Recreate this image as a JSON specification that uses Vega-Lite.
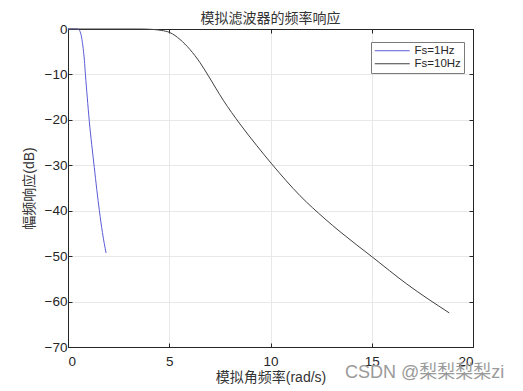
{
  "$schema": "https://vega.github.io/schema/vega-lite/v6.json",
  "width": 405,
  "height": 318,
  "autosize": {"type": "none"},
  "padding": {"left": 68, "top": 29, "right": 50, "bottom": 44},
  "background": "white",
  "title": {
    "text": "模拟滤波器的频率响应",
    "fontSize": 14,
    "font": "Liberation Sans, Noto Sans CJK SC",
    "fontWeight": "normal",
    "color": "#333333",
    "offset": -4,
    "anchor": "middle"
  },
  "config": {
    "view": {"stroke": "#262626", "strokeWidth": 1},
    "axis": {
      "domainColor": "#262626",
      "tickColor": "#262626",
      "tickSize": -4,
      "labelFont": "Liberation Sans",
      "labelFontSize": 13.5,
      "labelColor": "#262626",
      "titleFont": "Liberation Sans, Noto Sans CJK SC",
      "titleFontSize": 14,
      "titleFontWeight": "normal",
      "titleColor": "#333333",
      "gridColor": "#e8e8e8",
      "labelOverlap": false
    }
  },
  "resolve": {"axis": {"x": "independent", "y": "independent"}},
  "layer": [
    {
      "data": {
        "values": [
          {"x": 0, "y": 0, "s": "Fs=1Hz"},
          {"x": 0.4, "y": 0, "s": "Fs=1Hz"},
          {"x": 0.52, "y": -0.1, "s": "Fs=1Hz"},
          {"x": 0.6, "y": -0.6, "s": "Fs=1Hz"},
          {"x": 0.69, "y": -2.3, "s": "Fs=1Hz"},
          {"x": 0.75, "y": -4.3, "s": "Fs=1Hz"},
          {"x": 0.81, "y": -6.9, "s": "Fs=1Hz"},
          {"x": 0.86, "y": -10, "s": "Fs=1Hz"},
          {"x": 0.95, "y": -15, "s": "Fs=1Hz"},
          {"x": 1.05, "y": -20.2, "s": "Fs=1Hz"},
          {"x": 1.17, "y": -25.4, "s": "Fs=1Hz"},
          {"x": 1.3, "y": -30.5, "s": "Fs=1Hz"},
          {"x": 1.42, "y": -35.3, "s": "Fs=1Hz"},
          {"x": 1.55, "y": -40, "s": "Fs=1Hz"},
          {"x": 1.7, "y": -44.8, "s": "Fs=1Hz"},
          {"x": 1.88, "y": -49.3, "s": "Fs=1Hz"},
          {"x": 0, "y": 0, "s": "Fs=10Hz"},
          {"x": 3.5, "y": 0, "s": "Fs=10Hz"},
          {"x": 4.2, "y": -0.1, "s": "Fs=10Hz"},
          {"x": 4.6, "y": -0.3, "s": "Fs=10Hz"},
          {"x": 5.04, "y": -0.8, "s": "Fs=10Hz"},
          {"x": 5.53, "y": -2.3, "s": "Fs=10Hz"},
          {"x": 6.02, "y": -4.5, "s": "Fs=10Hz"},
          {"x": 6.52, "y": -7.4, "s": "Fs=10Hz"},
          {"x": 6.93, "y": -10.3, "s": "Fs=10Hz"},
          {"x": 7.67, "y": -15.7, "s": "Fs=10Hz"},
          {"x": 8.49, "y": -20.9, "s": "Fs=10Hz"},
          {"x": 9.31, "y": -25.6, "s": "Fs=10Hz"},
          {"x": 10.06, "y": -29.7, "s": "Fs=10Hz"},
          {"x": 11.46, "y": -36.7, "s": "Fs=10Hz"},
          {"x": 12.69, "y": -41.8, "s": "Fs=10Hz"},
          {"x": 13.43, "y": -44.6, "s": "Fs=10Hz"},
          {"x": 15.03, "y": -50.2, "s": "Fs=10Hz"},
          {"x": 16.72, "y": -56.1, "s": "Fs=10Hz"},
          {"x": 18.83, "y": -62.5, "s": "Fs=10Hz"}
        ]
      },
      "mark": {"type": "line", "strokeWidth": 1, "interpolate": "monotone"},
      "encoding": {
        "x": {
          "field": "x",
          "type": "quantitative",
          "scale": {"domain": [0, 20], "nice": false},
          "axis": {
            "orient": "bottom",
            "values": [0, 5, 10, 15, 20],
            "title": "模拟角频率(rad/s)",
            "labelPadding": 11,
            "titlePadding": 3,
            "grid": true
          }
        },
        "y": {
          "field": "y",
          "type": "quantitative",
          "scale": {"domain": [-70, 0], "nice": false},
          "axis": {
            "orient": "left",
            "values": [-70, -60, -50, -40, -30, -20, -10, 0],
            "title": "幅频响应(dB)",
            "labelPadding": 5,
            "titlePadding": 8,
            "grid": true
          }
        },
        "color": {
          "field": "s",
          "type": "nominal",
          "scale": {"domain": ["Fs=1Hz", "Fs=10Hz"], "range": ["#5b5bd6", "#404040"]},
          "legend": {
            "title": null,
            "orient": "none",
            "legendX": 303,
            "legendY": 13,
            "symbolType": "M-1,0H6",
            "symbolSize": 100,
            "symbolStrokeWidth": 1,
            "labelFont": "Liberation Sans",
            "labelFontSize": 11.5,
            "labelColor": "#262626",
            "labelOffset": 29,
            "strokeColor": "#7a7a7a",
            "fillColor": "white",
            "padding": 3,
            "rowPadding": 0
          }
        }
      }
    },
    {
      "data": {"values": [{"x": 13.68, "y": -75.7, "t": "CSDN @梨梨梨梨zi"}]},
      "mark": {
        "type": "text",
        "align": "left",
        "baseline": "middle",
        "fontSize": 18,
        "font": "Liberation Sans, Noto Sans CJK SC",
        "color": "#9a9a9a"
      },
      "encoding": {
        "x": {
          "field": "x",
          "type": "quantitative",
          "scale": {"domain": [0, 20], "nice": false},
          "axis": {"orient": "top", "values": [0, 5, 10, 15, 20], "labels": false, "title": null, "grid": false}
        },
        "y": {
          "field": "y",
          "type": "quantitative",
          "scale": {"domain": [-70, 0], "nice": false},
          "axis": {"orient": "right", "values": [-70, -60, -50, -40, -30, -20, -10, 0], "labels": false, "title": null, "grid": false}
        },
        "text": {"field": "t"}
      }
    }
  ]
}
